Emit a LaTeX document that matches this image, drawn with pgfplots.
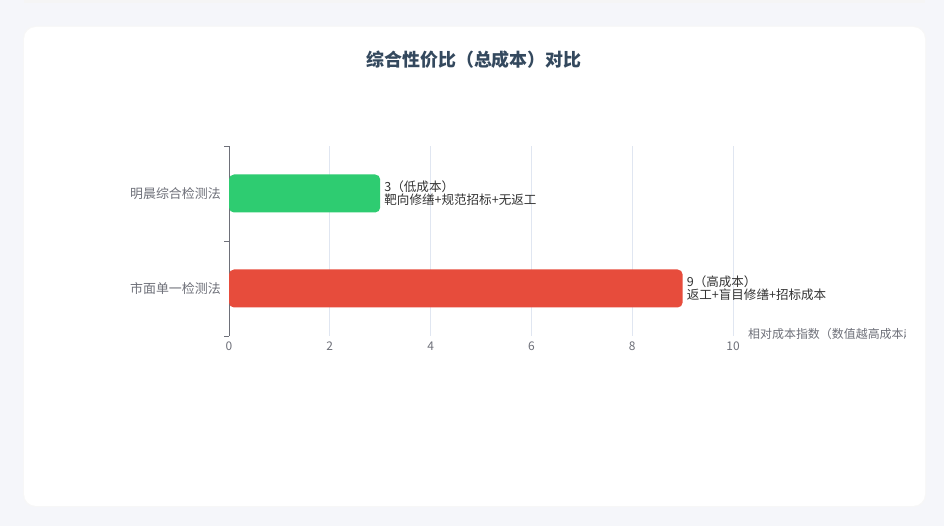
\documentclass[border=0pt]{standalone}
\usepackage{fontspec}
\setmainfont{Noto Sans CJK SC}
\usepackage{pgfplots}
\pgfplotsset{compat=1.18}

\definecolor{pagebg}{HTML}{F5F6FA}
\definecolor{titlecol}{HTML}{34495E}
\definecolor{axgray}{HTML}{6E7079}
\definecolor{gridcol}{HTML}{E0E6F1}
\definecolor{labcol}{HTML}{333333}
\definecolor{goodgreen}{HTML}{2ECC71}
\definecolor{badred}{HTML}{E74C3C}

\begin{document}
\begin{tikzpicture}[x=1bp,y=1bp]
% page and card
\fill[pagebg] (0,0) rectangle (944,526);
\fill[black!4] (24,523) rectangle (925,526);
\fill[black!3,rounded corners=12bp] (23,19) rectangle (926,500);
\fill[white,rounded corners=12bp] (24,20) rectangle (925,499);

\node[font=\fontsize{18}{21}\selectfont\bfseries,text=titlecol] at (474,466) {综合性价比（总成本）对比};

\begin{axis}[
    at={(229bp,190bp)}, anchor=south west,
    scale only axis,
    width=504bp, height=190bp,
    xmin=0, xmax=10,
    ymin=-0.5, ymax=1.5,
    xtick={0,2,4,6,8,10},
    ytick={0,1},
    yticklabels={市面单一检测法,明晨综合检测法},
    major tick length=0pt,
    extra y ticks={-0.5,0.5,1.5},
    extra y tick labels={},
    extra y tick style={major tick length=5bp, tick align=outside,
        tick style={draw=axgray, line width=0.8bp}},
    axis x line*=bottom, axis y line*=left,
    x axis line style={draw=none},
    y axis line style={draw=axgray, line width=0.8bp},
    xmajorgrids, major grid style={draw=gridcol, line width=0.8bp},
    /pgf/number format/assume math mode=true,
    xticklabel style={font=\fontsize{12}{14}\selectfont, text=axgray, inner sep=0pt, yshift=-6bp},
    yticklabel style={font=\fontsize{13}{15}\selectfont, text=axgray, inner sep=0pt, xshift=-8bp},
    xbar, bar width=38bp, bar shift=0pt,
    point meta=explicit symbolic,
    nodes near coords,
    nodes near coords style={anchor=west, xshift=3bp, align=left, inner sep=1bp,
        font=\fontsize{12.6}{11.8}\selectfont, text=labcol},
    clip=false,
]
\addplot[fill=goodgreen, draw=none, rounded corners=5bp]
    coordinates {(3,1) [{3（低成本）\\靶向修缮+规范招标+无返工}]};
\addplot[fill=badred, draw=none, rounded corners=5bp]
    coordinates {(9,0) [{9（高成本）\\返工+盲目修缮+招标成本}]};
\end{axis}

\begin{scope}
\clip (24,150) rectangle (905,230);
\node[anchor=west, inner sep=0pt, font=\fontsize{12}{14}\selectfont, text=axgray]
    at (748,192) {相对成本指数（数值越高成本越高）};
\end{scope}
\end{tikzpicture}
\end{document}
